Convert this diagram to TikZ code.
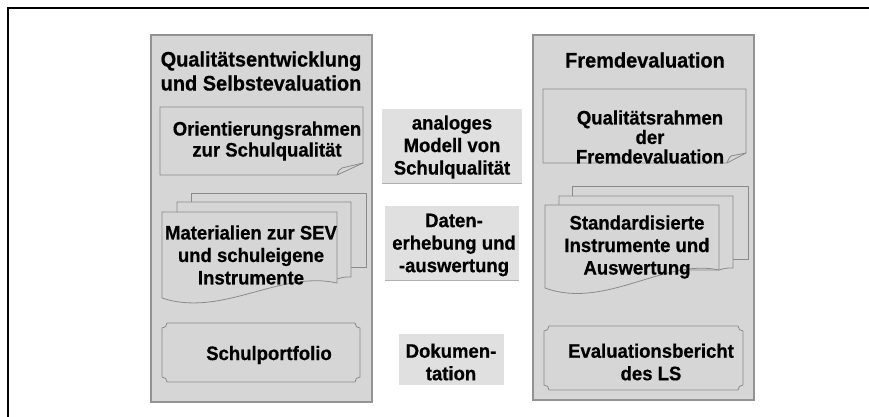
\documentclass[tikz,border=0pt]{standalone}
\usepackage{fontspec}
\setmainfont{Liberation Sans}[FakeStretch=0.95,BoldFeatures={FakeBold=0.6}]
\begin{document}
\begin{tikzpicture}[x=1pt,y=-1pt,
  panel/.style={draw=panelline,line width=2.5pt,fill=panelfill},
  docshape/.style={draw=shapeline,line width=0.8pt,fill=panelfill},
  midbox/.style={fill=midfill,inner sep=0pt},
  midshade/.style={draw=midline,line width=1pt},
  lbl/.style={font=\bfseries\fontsize{19.5}{22.5}\selectfont,align=center,inner sep=0pt},
  ttl/.style={font=\bfseries\fontsize{21}{24}\selectfont,align=center,inner sep=0pt}]
\definecolor{panelfill}{HTML}{D6D6D6}
\definecolor{panelline}{HTML}{939393}
\definecolor{shapeline}{HTML}{8A8A8A}
\definecolor{midfill}{HTML}{E0E0E0}
\definecolor{midline}{HTML}{B0B0B0}
\useasboundingbox (0,0) rectangle (869,417);
\fill[white] (0,0) rectangle (869,417);
% outer frame (top and left edges)
\coordinate (fa) at (8,417);
\coordinate (fb) at (8,8);
\coordinate (fc) at (869,8);
\draw[line width=1.5pt] (fa) -- (fb) -- (fc);

% ---------- left column ----------
\draw[panel] (151,35) rectangle (372,402);
\node[ttl] (qe) at (261,71) {Qualitätsentwicklung\\und Selbstevaluation};

% folded-corner document
\draw[docshape] (160,107) -- (363,107) -- (363,163) -- (337,175) -- (160,175) -- cycle;
\draw[docshape,fill=none] (337,175) .. controls (339,170) .. (342,168) -- (363,163);
\node[lbl,font=\bfseries\fontsize{19.5}{21}\selectfont] (or) at (267,141) {Orientierungsrahmen\\zur Schulqualität};

% stacked documents
\draw[docshape] (191,193) rectangle (366,267);
\draw[docshape] (177,202) -- (351,202) -- (351,277) .. controls (344,277) .. (337,279) -- (177,279) -- cycle;
\draw[docshape] (162,212) -- (337,212) -- (337,283)
  .. controls (280,270) and (222,318) .. (162,298) -- cycle;
\node[lbl] (ma) at (251,255) {Materialien zur SEV\\und schuleigene\\Instrumente};

% plaque
\draw[docshape] (167,323) -- (355,323)
  .. controls (355,326) and (357,328) .. (360,328) -- (360,377)
  .. controls (357,377) and (355,379) .. (355,382) -- (167,382)
  .. controls (167,379) and (165,377) .. (162,377) -- (162,328)
  .. controls (165,328) and (167,326) .. (167,323) -- cycle;
\node[lbl] (sp) at (269,355) {Schulportfolio};

% ---------- middle ----------
\node[midbox,minimum width=140,minimum height=74] (mo) at (452,146) {};
\draw[midshade] (mo.south west) -- (mo.south east);
\node[lbl] (mot) at (452,147) {analoges\\Modell von\\Schulqualität};

\node[midbox,minimum width=134,minimum height=74] (da) at (452,243) {};
\draw[midshade] (da.south west) -- (da.south east);
\node[lbl] (dat) at (454,245) {Daten-\\erhebung und\\-auswertung};

\node[midbox,minimum width=105,minimum height=51] (do) at (451.5,359.5) {};
\node[lbl] (dot) at (451,362) {Dokumen-\\tation};

% ---------- right column ----------
\draw[panel] (533,35) rectangle (754,400);
\node[ttl] (fe) at (645,60) {Fremdevaluation};

% folded-corner document
\draw[docshape] (543,89) -- (746,89) -- (746,153) -- (727,163) -- (543,163) -- cycle;
\draw[docshape,fill=none] (727,163) .. controls (729,158) .. (731,156) -- (746,153);
\node[lbl,font=\bfseries\fontsize{19.5}{19.5}\selectfont] (qr) at (650,137) {Qualitätsrahmen\\der\\Fremdevaluation};

% stacked documents
\draw[docshape] (572,186) rectangle (748,259);
\draw[docshape] (559,196) -- (733,196) -- (733,268) .. controls (726,268) .. (719,270) -- (559,270) -- cycle;
\draw[docshape] (545,205) -- (719,205) -- (719,270)
  .. controls (665,258) and (605,310) .. (545,288) -- cycle;
\node[lbl] (st) at (637,247) {Standardisierte\\Instrumente und\\Auswertung};

% plaque
\draw[docshape] (549,326) -- (738,326)
  .. controls (738,329) and (740,331) .. (743,331) -- (743,385)
  .. controls (740,385) and (738,387) .. (738,390) -- (549,390)
  .. controls (549,387) and (547,385) .. (544,385) -- (544,331)
  .. controls (547,331) and (549,329) .. (549,326) -- cycle;
\node[lbl] (eb) at (651,362) {Evaluationsbericht\\des LS};
\end{tikzpicture}
\end{document}
